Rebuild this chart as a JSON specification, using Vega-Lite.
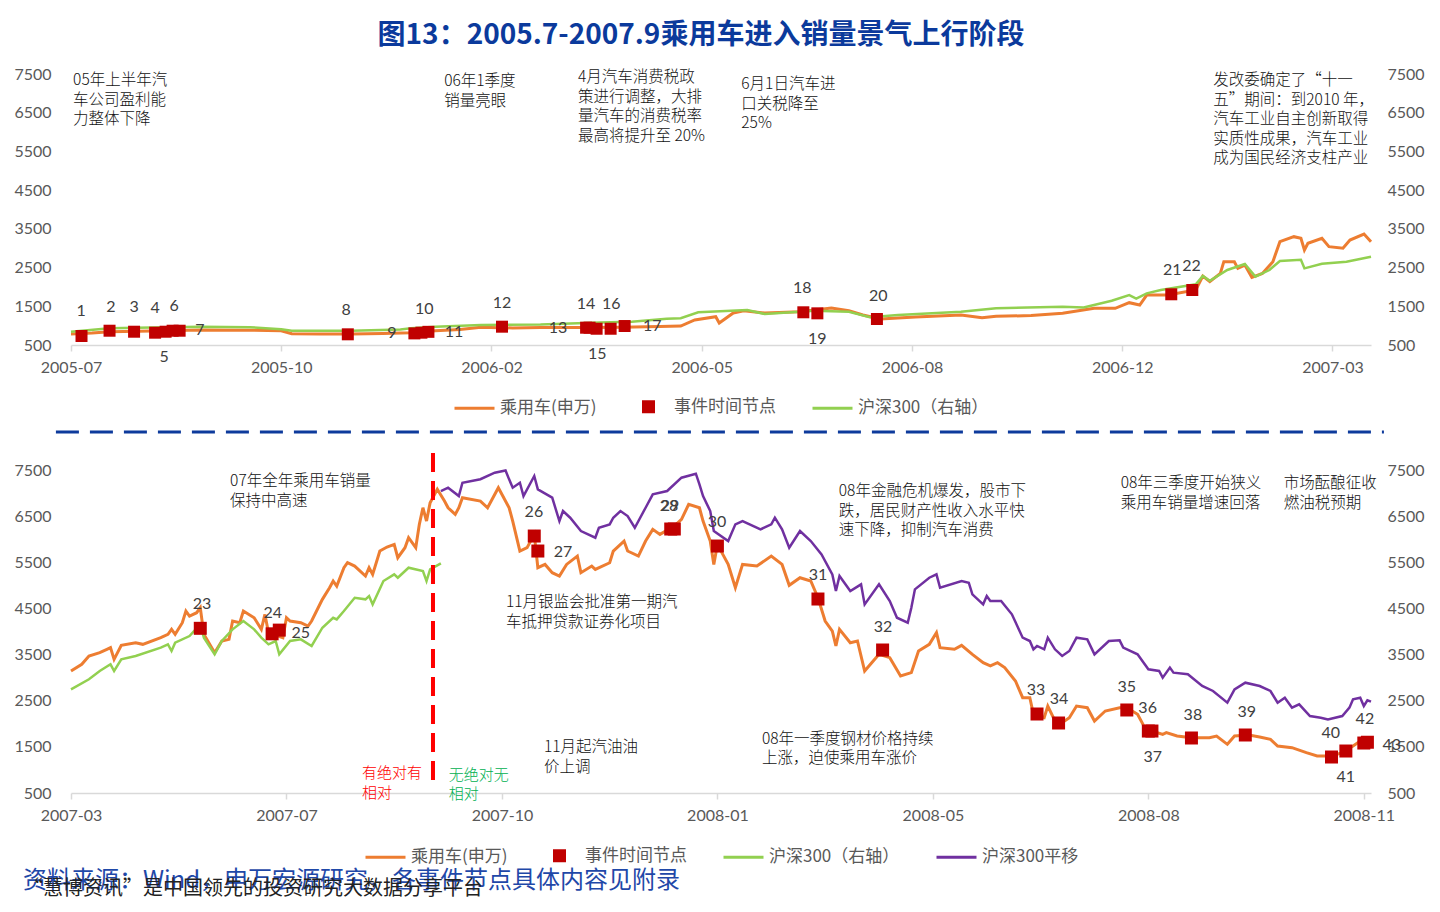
{
"$schema": "https://vega.github.io/schema/vega-lite/v6.json",
"background": "white",
"padding": {"left": 13, "top": 22, "right": 0, "bottom": 0},
"title": {"text": "图13：2005.7-2007.9乘用车进入销量景气上行阶段", "font": "Noto Sans CJK SC", "fontSize": 28, "fontWeight": "bold", "color": "#0B3A9C", "anchor": "middle", "dx": -18, "offset": 16},
"spacing": 12,
"resolve": {"scale": {"color": "independent", "x": "independent", "y": "independent"}},
"vconcat": [
{
"width": 1300, "height": 271,
"resolve": {"scale": {"y": "independent"}},
"layer": [
{"data": {"name": "top_car"}, "mark": {"type": "line", "strokeWidth": 3},
 "encoding": {
  "x": {"field": "i", "type": "quantitative", "scale": {"domain": [0, 371], "nice": false, "zero": false}, "axis": {"values": [0, 60, 120, 180, 240, 300, 360], "labelExpr": "datum.value == 0 ? '2005-07' : datum.value == 60 ? '2005-10' : datum.value == 120 ? '2006-02' : datum.value == 180 ? '2006-05' : datum.value == 240 ? '2006-08' : datum.value == 300 ? '2006-12' : '2007-03'", "title": null, "tickSize": 6, "labelPadding": 8, "labelFlush": false}},
  "y": {"field": "v", "type": "quantitative", "scale": {"domain": [500, 7500], "nice": false, "zero": false}, "axis": {"orient": "left", "values": [500, 1500, 2500, 3500, 4500, 5500, 6500, 7500], "format": "d", "title": null, "labelPadding": 20}},
  "color": {"datum": "乘用车(申万)", "type": "nominal", "scale": {"domain": ["乘用车(申万)", "事件时间节点", "沪深300（右轴）"], "range": ["#ED7D31", "#C00000", "#92D050"]},
   "legend": {"title": null, "orient": "bottom", "direction": "horizontal", "offset": 10, "padding": 0, "columnPadding": 30, "labelOffset": 4, "labelFont": "Noto Sans CJK SC", "labelFontSize": 17, "labelColor": "#595959", "symbolSize": 1600, "symbolStrokeWidth": 3,
    "encode": {"symbols": {"update": {
     "shape": {"signal": "datum.value === '事件时间节点' ? 'square' : 'stroke'"},
     "size": {"signal": "datum.value === '事件时间节点' ? 100 : 1600"},
     "fill": {"signal": "datum.value === '事件时间节点' ? '#C00000' : 'transparent'"},
     "stroke": {"signal": "datum.value === '事件时间节点' ? 'transparent' : datum.value === '乘用车(申万)' ? '#ED7D31' : '#92D050'"},
     "strokeWidth": {"value": 3}, "opacity": {"value": 1}}}}}}
 }},
{"data": {"name": "top_hs"}, "mark": {"type": "line", "strokeWidth": 2.5},
 "encoding": {
  "x": {"field": "i", "type": "quantitative"},
  "y": {"field": "v", "type": "quantitative", "scale": {"domain": [500, 7500], "nice": false, "zero": false}, "axis": {"orient": "right", "values": [500, 1500, 2500, 3500, 4500, 5500, 6500, 7500], "format": "d", "title": null, "labelPadding": 16}},
  "color": {"datum": "沪深300（右轴）", "type": "nominal"}
 }},
{"data": {"name": "top_ev"}, "mark": {"type": "point", "shape": "square", "filled": true, "size": 144, "opacity": 1},
 "encoding": {
  "x": {"field": "i", "type": "quantitative"},
  "y": {"field": "v", "type": "quantitative", "scale": {"domain": [500, 7500], "nice": false, "zero": false}, "axis": null},
  "color": {"datum": "事件时间节点", "type": "nominal"}
 }},
{"data": {"name": "top_ev"}, "mark": {"type": "text", "font": "Lato", "fontSize": 16, "color": "#404040", "align": "center", "baseline": "middle"},
 "encoding": {
  "x": {"field": "li", "type": "quantitative"},
  "y": {"field": "lv", "type": "quantitative", "scale": {"domain": [500, 7500], "nice": false, "zero": false}, "axis": null},
  "text": {"field": "n"}
 }},
{"data": {"name": "top_note"}, "mark": {"type": "text", "font": "Noto Sans CJK SC", "fontWeight": 300, "fontSize": 15.5, "lineHeight": 19.5, "lineBreak": "\n", "color": "#111111", "align": "left", "baseline": "top"},
 "encoding": {
  "x": {"field": "i", "type": "quantitative"},
  "y": {"field": "v", "type": "quantitative", "scale": {"domain": [500, 7500], "nice": false, "zero": false}, "axis": null},
  "text": {"field": "t"}
 }}
]
},
{
"width": 1300, "height": 323,
"resolve": {"scale": {"y": "independent"}},
"title": {"text": "资料来源：Wind，申万宏源研究，各事件节点具体内容见附录", "subtitle": "“慧博资讯”是中国领先的投资研究大数据分享平台", "orient": "bottom", "anchor": "start", "frame": "bounds", "dx": 9, "offset": 2, "font": "Noto Sans CJK SC", "fontSize": 24, "fontWeight": "normal", "color": "#1F48A8", "subtitleFont": "Noto Sans CJK SC", "subtitleFontSize": 20, "subtitleColor": "#222222", "subtitlePadding": -14},
"layer": [
{"data": {"name": "bot_car"}, "mark": {"type": "line", "strokeWidth": 3},
 "encoding": {
  "x": {"field": "i", "type": "quantitative", "scale": {"domain": [0, 362], "nice": false, "zero": false}, "axis": {"values": [0, 60, 120, 180, 240, 300, 360], "labelExpr": "datum.value == 0 ? '2007-03' : datum.value == 60 ? '2007-07' : datum.value == 120 ? '2007-10' : datum.value == 180 ? '2008-01' : datum.value == 240 ? '2008-05' : datum.value == 300 ? '2008-08' : '2008-11'", "title": null, "tickSize": 6, "labelPadding": 8, "labelFlush": false}},
  "y": {"field": "v", "type": "quantitative", "scale": {"domain": [500, 7500], "nice": false, "zero": false}, "axis": {"orient": "left", "values": [500, 1500, 2500, 3500, 4500, 5500, 6500, 7500], "format": "d", "title": null, "labelPadding": 20}},
  "color": {"datum": "乘用车(申万)", "type": "nominal", "scale": {"domain": ["乘用车(申万)", "事件时间节点", "沪深300（右轴）", "沪深300平移"], "range": ["#ED7D31", "#C00000", "#92D050", "#7030A0"]},
   "legend": {"title": null, "orient": "bottom", "direction": "horizontal", "offset": 11, "padding": 0, "columnPadding": 30, "labelOffset": 4, "labelFont": "Noto Sans CJK SC", "labelFontSize": 17, "labelColor": "#595959", "symbolSize": 1600, "symbolStrokeWidth": 3,
    "encode": {"symbols": {"update": {
     "shape": {"signal": "datum.value === '事件时间节点' ? 'square' : 'stroke'"},
     "size": {"signal": "datum.value === '事件时间节点' ? 100 : 1600"},
     "fill": {"signal": "datum.value === '事件时间节点' ? '#C00000' : 'transparent'"},
     "stroke": {"signal": "datum.value === '事件时间节点' ? 'transparent' : datum.value === '乘用车(申万)' ? '#ED7D31' : datum.value === '沪深300平移' ? '#7030A0' : '#92D050'"},
     "strokeWidth": {"value": 3}, "opacity": {"value": 1}}}}}}
 }},
{"data": {"name": "sep"}, "mark": {"type": "rule", "color": "#0D3A9C", "strokeWidth": 3, "strokeDash": [23, 11]},
 "encoding": {
  "x": {"field": "i", "type": "quantitative"}, "x2": {"field": "i2"},
  "y": {"field": "v", "type": "quantitative", "scale": {"domain": [500, 7500], "nice": false, "zero": false}, "axis": null}
 }},
{"data": {"name": "bot_hs"}, "mark": {"type": "line", "strokeWidth": 2.5},
 "encoding": {
  "x": {"field": "i", "type": "quantitative"},
  "y": {"field": "v", "type": "quantitative", "scale": {"domain": [500, 7500], "nice": false, "zero": false}, "axis": {"orient": "right", "values": [500, 1500, 2500, 3500, 4500, 5500, 6500, 7500], "format": "d", "title": null, "labelPadding": 16}},
  "color": {"datum": "沪深300（右轴）", "type": "nominal"}
 }},
{"data": {"name": "bot_shift"}, "mark": {"type": "line", "strokeWidth": 2.5},
 "encoding": {
  "x": {"field": "i", "type": "quantitative"},
  "y": {"field": "v", "type": "quantitative", "scale": {"domain": [500, 7500], "nice": false, "zero": false}, "axis": null},
  "color": {"datum": "沪深300平移", "type": "nominal"}
 }},
{"data": {"name": "vline"}, "mark": {"type": "rule", "color": "#FF0000", "strokeWidth": 4, "strokeDash": [19, 9]},
 "encoding": {
  "x": {"field": "i", "type": "quantitative"},
  "y": {"field": "v", "type": "quantitative", "scale": {"domain": [500, 7500], "nice": false, "zero": false}, "axis": null}, "y2": {"field": "v2"}
 }},
{"data": {"name": "bot_ev"}, "mark": {"type": "point", "shape": "square", "filled": true, "size": 169, "opacity": 1},
 "encoding": {
  "x": {"field": "i", "type": "quantitative"},
  "y": {"field": "v", "type": "quantitative", "scale": {"domain": [500, 7500], "nice": false, "zero": false}, "axis": null},
  "color": {"datum": "事件时间节点", "type": "nominal"}
 }},
{"data": {"name": "bot_ev"}, "mark": {"type": "text", "font": "Lato", "fontSize": 16, "color": "#404040", "align": "center", "baseline": "middle"},
 "encoding": {
  "x": {"field": "li", "type": "quantitative"},
  "y": {"field": "lv", "type": "quantitative", "scale": {"domain": [500, 7500], "nice": false, "zero": false}, "axis": null},
  "text": {"field": "n"}
 }},
{"data": {"name": "bot_note"}, "mark": {"type": "text", "font": "Noto Sans CJK SC", "fontWeight": 300, "fontSize": 15.5, "lineHeight": 19.5, "lineBreak": "\n", "color": "#111111", "align": "left", "baseline": "top"},
 "encoding": {
  "x": {"field": "i", "type": "quantitative"},
  "y": {"field": "v", "type": "quantitative", "scale": {"domain": [500, 7500], "nice": false, "zero": false}, "axis": null},
  "text": {"field": "t"}
 }},
{"data": {"name": "note_red"}, "mark": {"type": "text", "font": "Noto Sans CJK SC", "fontWeight": 300, "fontSize": 15, "lineHeight": 19.5, "lineBreak": "\n", "color": "#FF0000", "align": "left", "baseline": "top"},
 "encoding": {
  "x": {"field": "i", "type": "quantitative"},
  "y": {"field": "v", "type": "quantitative", "scale": {"domain": [500, 7500], "nice": false, "zero": false}, "axis": null},
  "text": {"field": "t"}
 }},
{"data": {"name": "note_green"}, "mark": {"type": "text", "font": "Noto Sans CJK SC", "fontWeight": 300, "fontSize": 15, "lineHeight": 19.5, "lineBreak": "\n", "color": "#00B050", "align": "left", "baseline": "top"},
 "encoding": {
  "x": {"field": "i", "type": "quantitative"},
  "y": {"field": "v", "type": "quantitative", "scale": {"domain": [500, 7500], "nice": false, "zero": false}, "axis": null},
  "text": {"field": "t"}
 }}
]
}
],
"datasets": {
"top_car": [{"i":0,"v":784},{"i":6,"v":810},{"i":11,"v":843},{"i":23,"v":860},{"i":37,"v":887},{"i":51,"v":880},{"i":60,"v":869},{"i":63,"v":790},{"i":71,"v":784},{"i":80,"v":784},{"i":89,"v":795},{"i":97,"v":818},{"i":104,"v":869},{"i":111,"v":900},{"i":117,"v":960},{"i":126,"v":940},{"i":134,"v":950},{"i":146,"v":950},{"i":157,"v":960},{"i":168,"v":980},{"i":174,"v":990},{"i":178,"v":1146},{"i":184,"v":1231},{"i":185,"v":1068},{"i":189,"v":1326},{"i":192,"v":1386},{"i":198,"v":1326},{"i":208,"v":1360},{"i":217,"v":1455},{"i":222,"v":1386},{"i":226,"v":1275},{"i":231,"v":1171},{"i":241,"v":1223},{"i":254,"v":1275},{"i":260,"v":1205},{"i":264,"v":1240},{"i":274,"v":1260},{"i":283,"v":1318},{"i":292,"v":1447},{"i":298,"v":1447},{"i":302,"v":1593},{"i":305,"v":1533},{"i":307,"v":1790},{"i":313,"v":1790},{"i":321,"v":1920},{"i":323,"v":2282},{"i":325,"v":2135},{"i":328,"v":2350},{"i":329,"v":2652},{"i":332,"v":2652},{"i":333,"v":2480},{"i":335,"v":2565},{"i":337,"v":2249},{"i":340,"v":2350},{"i":343,"v":2652},{"i":345,"v":3169},{"i":349,"v":3298},{"i":351,"v":3255},{"i":352,"v":2954},{"i":353,"v":3126},{"i":357,"v":3255},{"i":359,"v":3040},{"i":363,"v":3000},{"i":365,"v":3212},{"i":369,"v":3367},{"i":371,"v":3169}],
"top_hs": [{"i":0,"v":843},{"i":11,"v":930},{"i":23,"v":950},{"i":37,"v":973},{"i":51,"v":960},{"i":60,"v":905},{"i":63,"v":869},{"i":80,"v":869},{"i":94,"v":900},{"i":97,"v":930},{"i":104,"v":973},{"i":117,"v":1017},{"i":134,"v":1030},{"i":151,"v":1080},{"i":160,"v":1100},{"i":170,"v":1180},{"i":174,"v":1190},{"i":179,"v":1345},{"i":193,"v":1404},{"i":198,"v":1300},{"i":212,"v":1386},{"i":222,"v":1360},{"i":228,"v":1215},{"i":236,"v":1275},{"i":254,"v":1360},{"i":264,"v":1447},{"i":283,"v":1490},{"i":289,"v":1470},{"i":297,"v":1645},{"i":302,"v":1790},{"i":304,"v":1700},{"i":307,"v":1835},{"i":311,"v":1920},{"i":321,"v":2067},{"i":323,"v":2282},{"i":325,"v":2160},{"i":330,"v":2437},{"i":335,"v":2592},{"i":338,"v":2265},{"i":342,"v":2437},{"i":345,"v":2670},{"i":351,"v":2700},{"i":352,"v":2480},{"i":357,"v":2600},{"i":364,"v":2650},{"i":371,"v":2780}],
"top_ev": [{"n":"1","i":3,"v":733,"li":2.9,"lv":1378},{"n":"2","i":11,"v":869,"li":11.4,"lv":1482},{"n":"3","i":18,"v":843,"li":18,"lv":1482},{"n":"4","i":24,"v":818,"li":24,"lv":1456},{"n":"5","i":27,"v":843,"li":26.6,"lv":190},{"n":"6","i":29,"v":869,"li":29.4,"lv":1507},{"n":"7","i":31,"v":869,"li":36.8,"lv":887},{"n":"8","i":79,"v":776,"li":78.5,"lv":1404},{"n":"9","i":98,"v":800,"li":91.6,"lv":810},{"n":"10","i":100,"v":818,"li":100.8,"lv":1430},{"n":"11","i":102,"v":840,"li":109.3,"lv":836},{"n":"12","i":123,"v":973,"li":123,"lv":1585},{"n":"13","i":147,"v":947,"li":139,"lv":939},{"n":"14","i":148,"v":947,"li":147,"lv":1559},{"n":"15","i":150,"v":920,"li":150.2,"lv":268},{"n":"16","i":154,"v":920,"li":154.2,"lv":1559},{"n":"17","i":158,"v":990,"li":165.9,"lv":991},{"n":"18","i":209,"v":1345,"li":208.7,"lv":1972},{"n":"19","i":213,"v":1318,"li":213,"lv":655},{"n":"20","i":230,"v":1171,"li":230.4,"lv":1766},{"n":"21","i":314,"v":1810,"li":314.3,"lv":2437},{"n":"22","i":320,"v":1920,"li":319.8,"lv":2540}],
"top_note": [{"i":0.6,"v":7520,"t":"05年上半年汽\n车公司盈利能\n力整体下降"},{"i":106.5,"v":7500,"t":"06年1季度\n销量亮眼"},{"i":144.7,"v":7600,"t":"4月汽车消费税政\n策进行调整，大排\n量汽车的消费税率\n最高将提升至 20%"},{"i":191.3,"v":7420,"t":"6月1日汽车进\n口关税降至\n25%"},{"i":326,"v":7520,"t":"发改委确定了“十一\n五”期间：到2010 年，\n汽车工业自主创新取得\n实质性成果，汽车工业\n成为国民经济支柱产业"}],
"sep": [{"i":-4.2,"i2":365.6,"v":8323}],
"vline": [{"i":100.8,"v":7868,"v2":608}],
"bot_car": [{"i":0,"v":3144},{"i":3,"v":3289},{"i":5,"v":3469},{"i":8,"v":3541},{"i":10,"v":3614},{"i":11,"v":3650},{"i":12,"v":3397},{"i":14,"v":3700},{"i":18,"v":3757},{"i":20,"v":3722},{"i":25,"v":3866},{"i":27,"v":3938},{"i":28,"v":4046},{"i":29,"v":3938},{"i":31,"v":4190},{"i":32,"v":4444},{"i":33,"v":4335},{"i":35,"v":4407},{"i":36,"v":4515},{"i":37,"v":3938},{"i":40,"v":3541},{"i":42,"v":3794},{"i":44,"v":3830},{"i":45,"v":4227},{"i":47,"v":4190},{"i":48,"v":4444},{"i":51,"v":4298},{"i":53,"v":4046},{"i":54,"v":4370},{"i":55,"v":3974},{"i":59,"v":3866},{"i":60,"v":4298},{"i":61,"v":4227},{"i":64,"v":4190},{"i":66,"v":4118},{"i":67,"v":4227},{"i":70,"v":4697},{"i":72,"v":4949},{"i":73,"v":5094},{"i":74,"v":4985},{"i":76,"v":5382},{"i":77,"v":5490},{"i":79,"v":5418},{"i":82,"v":5202},{"i":83,"v":5382},{"i":84,"v":5238},{"i":86,"v":5744},{"i":88,"v":5830},{"i":90,"v":5888},{"i":91,"v":5599},{"i":93,"v":5816},{"i":94,"v":6032},{"i":96,"v":5816},{"i":97,"v":6322},{"i":98,"v":6682},{"i":99,"v":6394},{"i":100,"v":6791},{"i":102,"v":7081},{"i":104,"v":6827},{"i":105,"v":6682},{"i":107,"v":6539},{"i":108,"v":6682},{"i":109,"v":6900},{"i":114,"v":6827},{"i":116,"v":6682},{"i":119,"v":7116},{"i":122,"v":6682},{"i":123,"v":6394},{"i":125,"v":5744},{"i":127,"v":5816},{"i":129,"v":6105},{"i":130,"v":5382},{"i":132,"v":5454},{"i":134,"v":5274},{"i":136,"v":5202},{"i":138,"v":5454},{"i":141,"v":5635},{"i":142,"v":5274},{"i":145,"v":5418},{"i":146,"v":5346},{"i":150,"v":5490},{"i":151,"v":5744},{"i":154,"v":5960},{"i":155,"v":5744},{"i":158,"v":5635},{"i":160,"v":5960},{"i":162,"v":6213},{"i":164,"v":6105},{"i":168,"v":6285},{"i":170,"v":6430},{"i":172,"v":6755},{"i":175,"v":6682},{"i":176,"v":6394},{"i":178,"v":5960},{"i":179,"v":5454},{"i":180,"v":5888},{"i":183,"v":5454},{"i":185,"v":4949},{"i":187,"v":5454},{"i":191,"v":5418},{"i":195,"v":5635},{"i":198,"v":5454},{"i":200,"v":5002},{"i":203,"v":5166},{"i":206,"v":5094},{"i":208,"v":4732},{"i":210,"v":4227},{"i":212,"v":4010},{"i":213,"v":3686},{"i":214,"v":4046},{"i":217,"v":3757},{"i":219,"v":3794},{"i":221,"v":3144},{"i":225,"v":3505},{"i":228,"v":3433},{"i":231,"v":3036},{"i":234,"v":3108},{"i":236,"v":3578},{"i":239,"v":3722},{"i":241,"v":3974},{"i":242,"v":3650},{"i":246,"v":3614},{"i":248,"v":3700},{"i":251,"v":3505},{"i":254,"v":3324},{"i":256,"v":3253},{"i":258,"v":3324},{"i":260,"v":3217},{"i":263,"v":2927},{"i":265,"v":2565},{"i":267,"v":2565},{"i":268,"v":2205},{"i":271,"v":2132},{"i":272,"v":2385},{"i":274,"v":2060},{"i":276,"v":2024},{"i":278,"v":2132},{"i":280,"v":2385},{"i":283,"v":2349},{"i":285,"v":2060},{"i":288,"v":2277},{"i":292,"v":2349},{"i":294,"v":2349},{"i":297,"v":2205},{"i":299,"v":1915},{"i":301,"v":1843},{"i":304,"v":1771},{"i":305,"v":1807},{"i":308,"v":1735},{"i":312,"v":1699},{"i":317,"v":1699},{"i":319,"v":1735},{"i":322,"v":1555},{"i":324,"v":1735},{"i":328,"v":1756},{"i":331,"v":1713},{"i":334,"v":1663},{"i":336,"v":1519},{"i":340,"v":1483},{"i":344,"v":1374},{"i":347,"v":1302},{"i":351,"v":1302},{"i":354,"v":1374},{"i":357,"v":1519},{"i":359,"v":1627},{"i":361,"v":1591}],
"bot_hs": [{"i":0,"v":2747},{"i":5,"v":2964},{"i":8,"v":3144},{"i":11,"v":3289},{"i":12,"v":3144},{"i":14,"v":3397},{"i":18,"v":3469},{"i":25,"v":3650},{"i":27,"v":3722},{"i":28,"v":3578},{"i":29,"v":3757},{"i":33,"v":3902},{"i":36,"v":4155},{"i":37,"v":3866},{"i":40,"v":3505},{"i":42,"v":3794},{"i":45,"v":4046},{"i":48,"v":4227},{"i":51,"v":4046},{"i":53,"v":3866},{"i":55,"v":3722},{"i":57,"v":3794},{"i":58,"v":3505},{"i":61,"v":3794},{"i":64,"v":3830},{"i":67,"v":3686},{"i":70,"v":4082},{"i":73,"v":4298},{"i":74,"v":4262},{"i":76,"v":4444},{"i":79,"v":4732},{"i":82,"v":4697},{"i":83,"v":4768},{"i":84,"v":4588},{"i":87,"v":5094},{"i":90,"v":5238},{"i":91,"v":5166},{"i":94,"v":5382},{"i":98,"v":5310},{"i":99,"v":5094},{"i":100,"v":5346},{"i":103,"v":5477}],
"bot_shift": [{"i":103,"v":7044},{"i":105,"v":7117},{"i":108,"v":6936},{"i":109,"v":7224},{"i":114,"v":7300},{"i":118,"v":7442},{"i":121,"v":7490},{"i":122,"v":7297},{"i":123,"v":7116},{"i":125,"v":7225},{"i":126,"v":6936},{"i":129,"v":7370},{"i":130,"v":7081},{"i":134,"v":6900},{"i":136,"v":6394},{"i":137,"v":6611},{"i":139,"v":6466},{"i":142,"v":6177},{"i":146,"v":6032},{"i":147,"v":6249},{"i":150,"v":6322},{"i":151,"v":6466},{"i":153,"v":6611},{"i":155,"v":6502},{"i":157,"v":6249},{"i":160,"v":6682},{"i":162,"v":6972},{"i":166,"v":7044},{"i":170,"v":7333},{"i":174,"v":7420},{"i":175,"v":7189},{"i":176,"v":6936},{"i":178,"v":6611},{"i":179,"v":6177},{"i":183,"v":5960},{"i":185,"v":6322},{"i":187,"v":6394},{"i":192,"v":6213},{"i":195,"v":6322},{"i":196,"v":6466},{"i":198,"v":6213},{"i":200,"v":5816},{"i":203,"v":6177},{"i":206,"v":5960},{"i":209,"v":5671},{"i":212,"v":5238},{"i":213,"v":4877},{"i":214,"v":5202},{"i":217,"v":4877},{"i":220,"v":5022},{"i":221,"v":4588},{"i":225,"v":5022},{"i":228,"v":4660},{"i":230,"v":4298},{"i":233,"v":4190},{"i":234,"v":4515},{"i":235,"v":4913},{"i":239,"v":5166},{"i":241,"v":5238},{"i":242,"v":4949},{"i":248,"v":5094},{"i":250,"v":5058},{"i":251,"v":4805},{"i":254,"v":4588},{"i":255,"v":4768},{"i":256,"v":4660},{"i":259,"v":4660},{"i":262,"v":4372},{"i":265,"v":3866},{"i":267,"v":3794},{"i":268,"v":3614},{"i":269,"v":3686},{"i":271,"v":3614},{"i":272,"v":3866},{"i":274,"v":3614},{"i":276,"v":3469},{"i":278,"v":3578},{"i":280,"v":3866},{"i":283,"v":3830},{"i":285,"v":3505},{"i":289,"v":3794},{"i":292,"v":3808},{"i":293,"v":3650},{"i":297,"v":3505},{"i":300,"v":3180},{"i":303,"v":3144},{"i":304,"v":2999},{"i":306,"v":3217},{"i":307,"v":3108},{"i":311,"v":3072},{"i":315,"v":2819},{"i":318,"v":2711},{"i":322,"v":2457},{"i":324,"v":2747},{"i":327,"v":2891},{"i":331,"v":2819},{"i":334,"v":2711},{"i":336,"v":2457},{"i":338,"v":2566},{"i":340,"v":2349},{"i":342,"v":2421},{"i":345,"v":2168},{"i":348,"v":2132},{"i":350,"v":2096},{"i":354,"v":2168},{"i":356,"v":2349},{"i":357,"v":2530},{"i":359,"v":2566},{"i":360,"v":2385},{"i":361,"v":2510},{"i":362,"v":2480}],
"bot_ev": [{"n":"23","i":36,"v":4069,"li":36.5,"lv":4596},{"n":"24","i":56,"v":3950,"li":56.2,"lv":4401},{"n":"25","i":58,"v":4030,"li":64,"lv":3967},{"n":"26","i":129,"v":6069,"li":128.9,"lv":6589},{"n":"27","i":130,"v":5744,"li":137,"lv":5722},{"n":"28","i":167,"v":6221,"li":166.5,"lv":6719},{"n":"29","i":168,"v":6221,"li":166.8,"lv":6719},{"n":"30","i":180,"v":5852,"li":179.9,"lv":6373},{"n":"31","i":208,"v":4704,"li":208,"lv":5224},{"n":"32","i":226,"v":3599,"li":226.1,"lv":4097},{"n":"33","i":269,"v":2212,"li":268.7,"lv":2732},{"n":"34","i":275,"v":2017,"li":275.1,"lv":2537},{"n":"35","i":294,"v":2299,"li":294,"lv":2797},{"n":"36","i":300,"v":1843,"li":299.8,"lv":2342},{"n":"37","i":301,"v":1843,"li":301.2,"lv":1280},{"n":"38","i":312,"v":1692,"li":312.4,"lv":2190},{"n":"39","i":327,"v":1757,"li":327.4,"lv":2255},{"n":"40","i":351,"v":1280,"li":350.8,"lv":1800},{"n":"41","i":355,"v":1410,"li":355,"lv":847},{"n":"42","i":360,"v":1583,"li":360.3,"lv":2104},{"n":"43","i":361,"v":1600,"li":367.8,"lv":1540}],
"bot_note": [{"i":44.3,"v":7413,"t":"07年全年乘用车销量\n保持中高速"},{"i":121.1,"v":4791,"t":"11月银监会批准第一期汽\n车抵押贷款证券化项目"},{"i":131.7,"v":1648,"t":"11月起汽油油\n价上调"},{"i":192.4,"v":1822,"t":"08年一季度钢材价格持续\n上涨，迫使乘用车涨价"},{"i":213.8,"v":7196,"t":"08年金融危机爆发，股市下\n跌，居民财产性收入水平快\n速下降，抑制汽车消费"},{"i":292.3,"v":7369,"t":"08年三季度开始狭义\n乘用车销量增速回落"},{"i":337.7,"v":7369,"t":"市场酝酿征收\n燃油税预期"}],
"note_red": [{"i":81,"v":1085,"t":"有绝对有\n相对"}],
"note_green": [{"i":105.2,"v":1042,"t":"无绝对无\n相对"}]
},
"config": {
 "view": {"stroke": null},
 "axis": {"labelFont": "Lato", "labelFontSize": 16, "labelColor": "#595959", "grid": false, "domainColor": "#D9D9D9", "domainWidth": 1.5, "tickColor": "#D9D9D9", "tickWidth": 1.5},
 "axisY": {"domain": false, "ticks": false},
 "legend": {"layout": {"bottom": {"anchor": "middle"}}}
}
}
